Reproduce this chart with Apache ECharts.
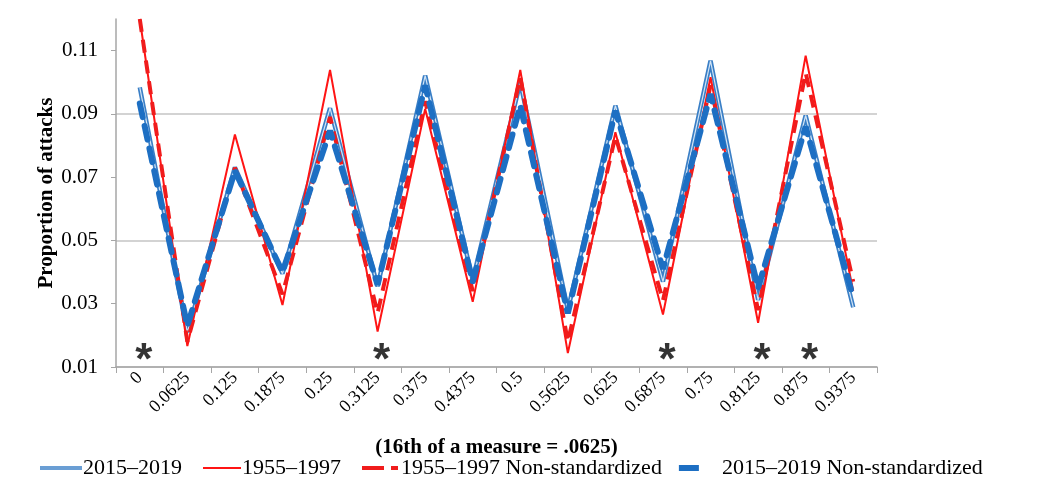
<!DOCTYPE html>
<html>
<head>
<meta charset="utf-8">
<script src="https://cdn.jsdelivr.net/npm/echarts@6/dist/echarts.min.js"></script>
<style>
html,body{margin:0;padding:0;background:#fff;}
#c{width:1055px;height:495px;}
</style>
</head>
<body>
<div id="c"></div>
<script>
var categories = ['0','0.0625','0.125','0.1875','0.25','0.3125','0.375','0.4375','0.5','0.5625','0.625','0.6875','0.75','0.8125','0.875','0.9375'];
var modern = [0.0984,0.021,0.0731,0.0395,0.0918,0.0355,0.1021,0.0375,0.100,0.028,0.0926,0.037,0.1068,0.0312,0.0895,0.0289];
var older = [0.120,0.0166,0.0835,0.0296,0.1039,0.0212,0.0916,0.0306,0.1039,0.0144,0.0842,0.0266,0.1016,0.024,0.1084,0.034];
var olderNonStd = [0.120,0.018,0.073,0.033,0.089,0.027,0.094,0.034,0.1015,0.018,0.083,0.031,0.099,0.028,0.103,0.037];
var modernNonStd = [0.0933,0.023,0.072,0.040,0.0847,0.036,0.099,0.037,0.0926,0.027,0.091,0.041,0.0963,0.035,0.086,0.032];
var starred = ['0','0.3125','0.6875','0.8125','0.875'];
var starLevel = 0.0155;
var yTicks = [0.01,0.03,0.05,0.07,0.09,0.11];

var serif = "'Liberation Serif','DejaVu Serif',serif";
var box = 'M0,0h0.01v0.01h-0.01Z M41.99,7.99h0.01v0.01h-0.01Z ';
var chart = echarts.init(document.getElementById('c'));
chart.setOption({
  animation: false,
  backgroundColor: '#fff',
  grid: {left: 116, right: 178, top: 19, bottom: 128, containLabel: false},
  legend: {
    top: 457, left: 40, padding: 0,
    itemWidth: 42, itemHeight: 8, itemGap: 17,
    textStyle: {fontFamily: serif, fontSize: 22, color: '#000', padding: [0, 0, 0, -4]},
    data: [
      {name: '2015–2019', icon: 'path://' + box + 'M0,2.2H42V3.7H0Z M0,4.3H42V5.8H0Z'},
      {name: '1955–1997', icon: 'path://' + box + 'M4,3H42V5H4Z'},
      {name: '1955–1997 Non-standardized', icon: 'path://' + box + 'M4,2H26V6H4Z M33,2H40V6H33Z'},
      {name: '2015–2019 Non-standardized', icon: 'path://' + box + 'M0,1H20V7H0Z'}
    ]
  },
  xAxis: {
    type: 'category', data: categories, boundaryGap: true,
    name: '(16th of a measure = .0625)', nameLocation: 'middle', nameGap: 70,
    nameMoveOverlap: false,
    nameTextStyle: {fontFamily: serif, fontSize: 21, fontWeight: 'bold', color: '#000'},
    axisLine: {lineStyle: {color: '#a6a6a6', width: 1.5}},
    axisTick: {show: true, alignWithLabel: false, length: 6, lineStyle: {color: '#a6a6a6'}},
    axisLabel: {rotate: 45, fontFamily: serif, fontSize: 18, color: '#000', margin: 8, interval: 0},
    splitLine: {show: false}
  },
  yAxis: {
    type: 'value', min: 0.01, max: 0.12, interval: 0.01,
    name: 'Proportion of attacks', nameLocation: 'middle', nameGap: 59,
    nameMoveOverlap: false,
    nameTextStyle: {fontFamily: serif, fontSize: 21, fontWeight: 'bold', color: '#000'},
    axisLine: {show: true, lineStyle: {color: '#a6a6a6', width: 1.5}},
    axisTick: {show: true, customValues: yTicks, length: 5, lineStyle: {color: '#a6a6a6'}},
    axisLabel: {
      fontFamily: serif, fontSize: 21, color: '#000', margin: 18,
      formatter: function (v) {
        for (var i = 0; i < yTicks.length; i++) {
          if (Math.abs(v - yTicks[i]) < 1e-6) return yTicks[i].toFixed(2);
        }
        return '';
      }
    },
    splitLine: {show: true, showMinLine: true, showMaxLine: true,
      lineStyle: {color: ['#c4c4c4', 'rgba(0,0,0,0)'], width: 1.5}}
  },
  series: [
    {name: '2015–2019', type: 'line', data: modern, symbol: 'none', z: 2,
     lineStyle: {color: '#3a7fc6', width: 4.5}, itemStyle: {color: '#3a7fc6'}},
    {name: '2015–2019 inner', type: 'line', data: modern, symbol: 'none', z: 2, silent: true,
     lineStyle: {color: '#d2e4f5', width: 1.2}, itemStyle: {color: '#d2e4f5'}},
    {name: '1955–1997', type: 'line', data: older, symbol: 'none', z: 3,
     lineStyle: {color: '#ff1414', width: 2}, itemStyle: {color: '#ff1414'}},
    {name: '1955–1997 Non-standardized', type: 'line', data: olderNonStd, symbol: 'none', z: 4,
     lineStyle: {color: '#f01c1c', width: 4, type: [13, 8]}, itemStyle: {color: '#f01c1c'}},
    {name: '2015–2019 Non-standardized', type: 'line', data: modernNonStd, symbol: 'none', z: 5,
     lineStyle: {color: '#1d6fc3', width: 6, type: [14, 9], cap: 'round'}, itemStyle: {color: '#1d6fc3'}},
    {name: 'stars', type: 'scatter', symbolSize: 1, itemStyle: {color: 'rgba(0,0,0,0)'}, silent: true, z: 6,
     data: starred.map(function (c) { return [c, starLevel]; }),
     label: {show: true, position: 'inside', formatter: '*', fontFamily: "'Liberation Sans','DejaVu Sans',sans-serif",
       fontSize: 44, fontWeight: 'bold', color: '#000', offset: [4, 12]}}
  ]
});
</script>
</body>
</html>
